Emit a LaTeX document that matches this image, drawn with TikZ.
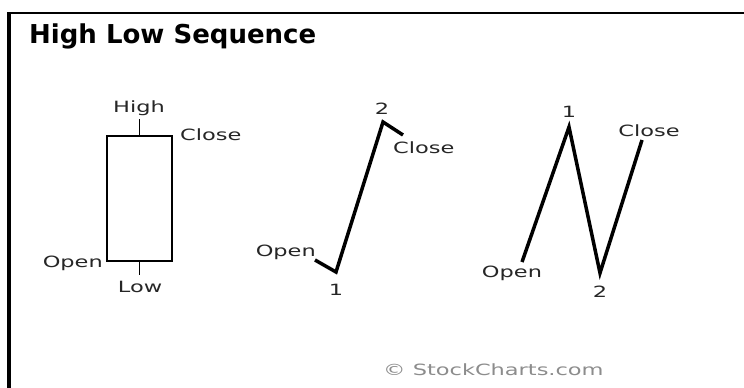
\documentclass[tikz,border=0pt]{standalone}
\usepackage{fontspec}
\setmainfont{DejaVu Sans}
\newfontfamily\lblfont[FakeStretch=1.45]{DejaVu Sans}
\usetikzlibrary{positioning}

\tikzset{
  lbl/.style={font=\lblfont\fontsize{15.5}{18}\selectfont, inner sep=0pt, text=black!85},
  candle/.style={draw, line width=1.5, minimum width=65, minimum height=125, inner sep=0pt},
  wick/.style={line width=1.5},
  price/.style={line width=3.5, line join=miter},
  frameline/.style={black}
}

\begin{document}
\begin{tikzpicture}[x=1pt, y=-1pt]
    \useasboundingbox (0,0) rectangle (744,388);
    % frame
    \draw[frameline, line width=2.5] (7,13) -- (744,13);
    \draw[frameline, line width=3.5] (9,12) -- (9,388);
    \node[anchor=base west, inner sep=0pt, font=\bfseries\fontsize{26}{28}\selectfont] (title) at (29,43) {High Low Sequence};

    % candlestick
    \node[candle] (body) at (139.5,198.5) {};
    \coordinate (high) at (139.5,119);
    \coordinate (low) at (139.5,275);
    \draw[wick] (body.north) -- (high);
    \draw[wick] (body.south) -- (low);
    \node[lbl, anchor=base] (hightxt) at (139,112) {High};
    \node[lbl, anchor=base west] (closetxt) at (180,140) {Close};
    \node[lbl, anchor=base east] (opentxt) at (103,267) {Open};
    \node[lbl, anchor=base] (lowtxt) at (140,292) {Low};

    % low first, then high
    \coordinate (aopen) at (315,260);
    \coordinate (alow) at (336,272);
    \coordinate (ahigh) at (383,122);
    \coordinate (aclose) at (403,135);
    \draw[price] (aopen) -- (alow) -- (ahigh) -- (aclose);
    \node[lbl, anchor=base east] (aopentxt) at (316,256) {Open};
    \node[lbl, anchor=base] (aonetxt) at (336,295) {1};
    \node[lbl, anchor=base] (atwotxt) at (382,114) {2};
    \node[lbl, anchor=base west] (aclosetxt) at (393,153) {Close};

    % high first, then low
    \coordinate (bopen) at (522,262);
    \coordinate (bhigh) at (569,127);
    \coordinate (blow) at (600,273);
    \coordinate (bclose) at (642,140);
    \draw[price] (bopen) -- (bhigh) -- (blow) -- (bclose);
    \node[lbl, anchor=base] (bopentxt) at (512,277) {Open};
    \node[lbl, anchor=base] (bonetxt) at (569,117) {1};
    \node[lbl, anchor=base] (btwotxt) at (600,297) {2};
    \node[lbl, anchor=base] (bclosetxt) at (649,136) {Close};

    \node[lbl, anchor=base west, text=black!45] (credit) at (383,375) {© StockCharts.com};
\end{tikzpicture}
\end{document}
